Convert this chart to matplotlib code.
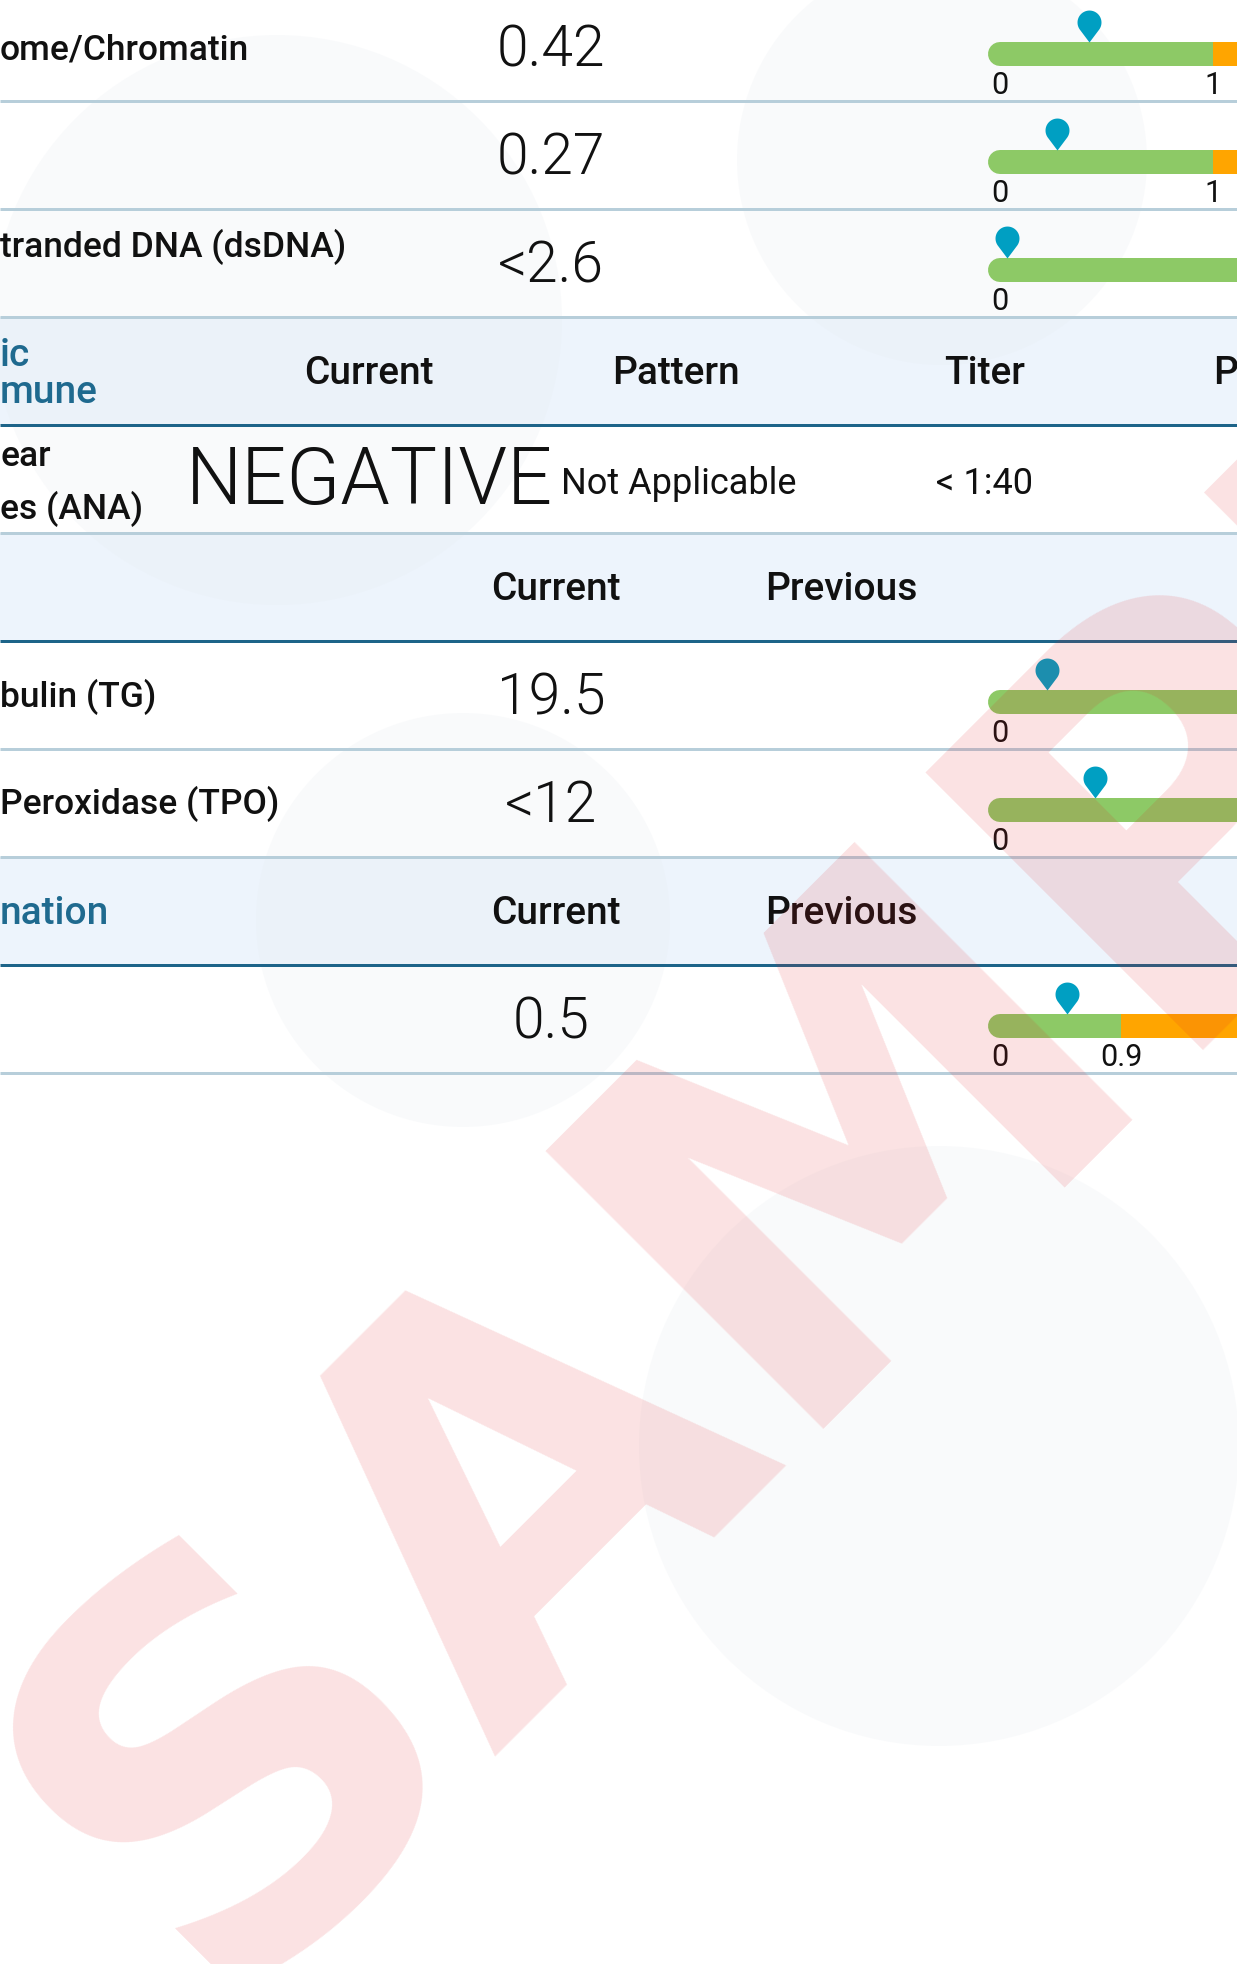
import numpy as np
import matplotlib
matplotlib.use("Agg")
import matplotlib.pyplot as plt
from matplotlib.patches import Rectangle, Circle
from matplotlib.path import Path
from matplotlib.markers import MarkerStyle

# ---------------- data ----------------
bar_labels = ["ome/Chromatin", "", "tranded DNA (dsDNA)", "bulin (TG)", "Peroxidase (TPO)", ""]
bar_value_text = ["0.42", "0.27", "<2.6", "19.5", "<12", "0.5"]
bar_values = [0.42, 0.27, 2.6, 19.5, 12, 0.5]
ref_high = [1, 1, None, None, None, 0.9]
ref_high_label = ["1", "1", "", "", "", "0.9"]
scale_max = [1.113, 1.113, 88, 98, 30, 1.763]

header1_title = ["ic", "mune"]
header1_cols = ["Current", "Pattern", "Titer", "P"]
ana_label = ["ear", "es (ANA)"]
ana_result = "NEGATIVE"
ana_pattern = "Not Applicable"
ana_titer = "< 1:40"
header2_title = ""
header2_cols = ["Current", "Previous"]
header3_title = "nation"
header3_cols = ["Current", "Previous"]
watermark = "SAMPLE"

# ---------------- style ----------------
W, H = 1237, 1964
DPI = 100
PT = 72 / DPI
FONT = "Roboto"
HEAD_BG = "#EDF4FC"
LIGHT_LINE = "#B7CEDA"
DARK_LINE = "#1D6489"
TITLE_BLUE = "#1F6A8F"
GREEN = "#8DC966"
ORANGE = "#FFA500"
PIN = "#009FC2"
INK = "#111111"

fig = plt.figure(figsize=(W / DPI, H / DPI), dpi=DPI)
fig.patch.set_facecolor("white")
ax = fig.add_axes([0, 0, 1, 1])
ax.set_xlim(0, W)
ax.set_ylim(H, 0)
ax.axis("off")

ROW_H = 108
row_tops = [-7, 101, 209, 317, 425, 533, 641, 749, 857, 965]
row_kind = ["bar", "bar", "bar", "head", "ana", "head", "bar", "bar", "head", "bar"]

# backgrounds
for t, k in zip(row_tops, row_kind):
    if k == "head":
        ax.add_patch(Rectangle((0, t), W, ROW_H, facecolor=HEAD_BG, edgecolor="none", zorder=0))

# faint decorative circles
for cx, cy, r in [(277, 320, 285), (942, 160, 205), (463, 920, 207), (939, 1446, 300)]:
    ax.add_patch(Circle((cx, cy), r, facecolor="#E6EBF0", edgecolor="none", alpha=0.22, zorder=0.5))

# lines
for t, k in zip(row_tops, row_kind):
    y = t + ROW_H
    ax.plot([0, W], [y, y], color=DARK_LINE if k == "head" else LIGHT_LINE,
            lw=3 * PT, solid_capstyle="butt", zorder=2)

lab_kw = dict(family=FONT, fontsize=25.5, fontweight="medium", color=INK, va="center", zorder=3)
val_kw = dict(family=FONT, fontsize=41, fontweight=300, color=INK, va="center", ha="center", zorder=3)
head_kw = dict(family=FONT, fontsize=28, fontweight="medium", color=INK, va="center", zorder=3)
title_kw = dict(family=FONT, fontsize=28, fontweight="medium", color=TITLE_BLUE, va="center", ha="left", zorder=3)

# pin marker
r_, h_ = 12.0, 20.0
a = np.degrees(np.arccos(r_ / h_))
ang = np.radians(np.linspace(-90 + a, 270 - a, 80))
verts = [(0, 0)] + [(r_ * np.cos(t), h_ + r_ * np.sin(t)) for t in ang] + [(0, 0)]
pin = MarkerStyle(Path(verts, closed=True))

bar_rows = [i for i, k in enumerate(row_kind) if k == "bar"]
label_dy = [57, 56, 38, 56, 55, 56]
for j, i in enumerate(bar_rows):
    t = row_tops[i]
    if bar_labels[j]:
        ax.text(0, t + label_dy[j], bar_labels[j], ha="left", **lab_kw)
    ax.text(551, t + 58, bar_value_text[j], **val_kw)
    bax = fig.add_axes([1000 / W, 1 - (t + ROW_H) / H, 237 / W, ROW_H / H])
    bax.set_xlim(0, scale_max[j])
    bax.set_ylim(ROW_H, 0)
    bax.axis("off")
    end_green = ref_high[j] if ref_high[j] is not None else scale_max[j] * 1.2
    bax.plot([0, end_green], [61, 61], color=GREEN, lw=24 * PT, solid_capstyle="round", clip_on=False)
    if ref_high[j] is not None:
        bax.plot([ref_high[j], scale_max[j] * 1.2], [61, 61], color=ORANGE, lw=24 * PT,
                 solid_capstyle="butt", clip_on=False)
        bax.text(ref_high[j], 92, ref_high_label[j], family=FONT, fontsize=22, ha="center", va="center",
                 color=INK, clip_on=False)
    bax.text(0, 92, "0", family=FONT, fontsize=22, ha="center", va="center", color=INK, clip_on=False)
    bax.plot([bar_values[j]], [49], marker=pin, ms=46, color=PIN, mew=0, ls="none", clip_on=False)

# header 1
t = row_tops[3]
ax.text(0, t + 38, header1_title[0], **title_kw)
ax.text(0, t + 75, header1_title[1], **title_kw)
for txt, x in zip(header1_cols[:3], [369, 676, 985]):
    ax.text(x, t + 56, txt, ha="center", **head_kw)
ax.text(1213, t + 56, header1_cols[3], ha="left", **head_kw)

# ANA row
t = row_tops[4]
ax.text(0, t + 31, ana_label[0], ha="left", **lab_kw)
ax.text(0, t + 84, ana_label[1], ha="left", **lab_kw)
ax.text(369, t + 57, ana_result, family=FONT, fontsize=57, fontweight=300, color=INK,
        ha="center", va="center", zorder=3)
ax.text(561, t + 59, ana_pattern, family=FONT, fontsize=26, color=INK, ha="left", va="center", zorder=3)
ax.text(985, t + 59, ana_titer, family=FONT, fontsize=26, color=INK, ha="center", va="center", zorder=3)

# header 2 & 3
for i, title, cols in [(5, header2_title, header2_cols), (8, header3_title, header3_cols)]:
    t = row_tops[i]
    if title:
        ax.text(0, t + 56, title, **title_kw)
    ax.text(556, t + 56, cols[0], ha="center", **head_kw)
    ax.text(841, t + 56, cols[1], ha="center", **head_kw)

# watermark
fig.text(209 / W, 1 - 2005 / H, watermark, family="DejaVu Sans", fontweight="bold", fontsize=388,
         color="#E31E24", alpha=0.13, rotation=45, rotation_mode="anchor", ha="left", va="baseline",
         zorder=10)

fig.savefig("out.png", dpi=DPI, facecolor="white")
